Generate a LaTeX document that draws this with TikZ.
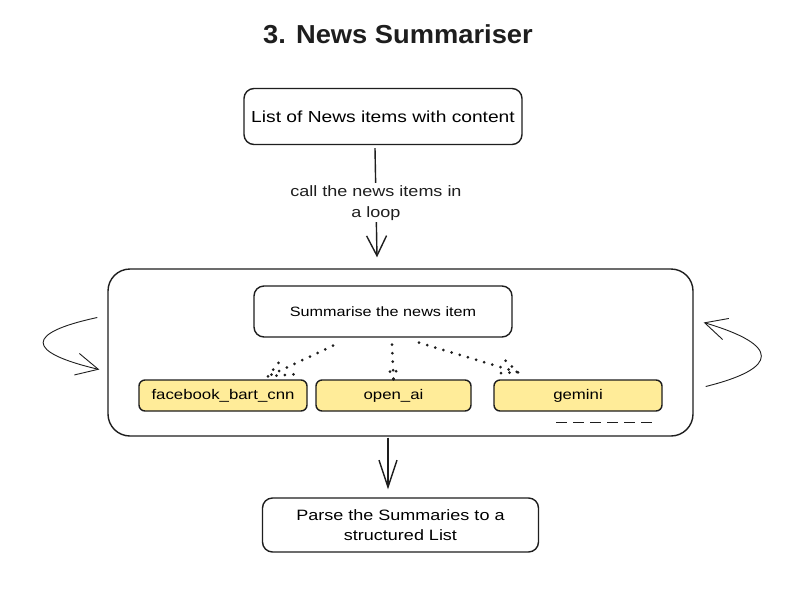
\documentclass[tikz,border=0pt]{standalone}
\usepackage{fontspec}
\setmainfont{Liberation Sans}[FakeStretch=1.2]
\newfontfamily\titlefont{Liberation Sans}[FakeStretch=1.05]
\usetikzlibrary{arrows.meta,calc}
\definecolor{ink}{HTML}{1E1E1E}
\definecolor{yel}{HTML}{FFEC99}
\begin{document}
\begin{tikzpicture}[x=1pt,y=-1pt,
  box/.style={draw=ink,line width=1.4pt,rounded corners=10pt,fill=white,align=center,inner sep=0pt},
  ybox/.style={box,fill=yel,rounded corners=6pt,minimum width=168pt,minimum height=31pt,font=\fontsize{14}{16}\selectfont},
  arr/.style={draw=ink,line width=1.4pt,-{Straight Barb[length=20pt,width=20pt,line width=1.4pt]}},
  thin arr/.style={draw=ink,line width=0.9pt,-{Straight Barb[length=22pt,width=22pt,line width=0.9pt]}},
  dots/.style={draw=ink,line width=3pt,line cap=round,dash pattern=on 0pt off 8.5pt},
  txt/.style={text=ink}
]
\useasboundingbox (0,0) rectangle (800,598);
\fill[white] (0,0) rectangle (800,598);

\node[txt,font=\titlefont\bfseries\fontsize{26}{30}\selectfont] (title) at (398,34) {3. News Summariser};

\node[box,minimum width=278pt,minimum height=56pt,font=\fontsize{16}{19}\selectfont] (src) at (383,116.5) {List of News items with content};

\node[box,rounded corners=22pt,minimum width=585pt,minimum height=167pt,fill=none] (big) at (400.5,352.5) {};

\node[box,minimum width=258pt,minimum height=51pt,font=\fontsize{13.5}{16}\selectfont] (summ) at (383,311.5) {Summarise the news item};

\node[ybox] (fb) at (223,395.5) {facebook\_bart\_cnn};
\node[ybox,minimum width=155pt] (oa) at (393.5,395.5) {open\_ai};
\node[ybox] (gm) at (578,395.5) {gemini};

\node[box,minimum width=276pt,minimum height=54pt,font=\fontsize{15}{20}\selectfont] (out) at (400.5,525) {Parse the Summaries to a\\structured List};

% top arrow with label
\draw[arr] ([xshift=-8pt,yshift=-3pt]src.south) -- ([xshift=-23.5pt,yshift=11pt]big.north)
  node[midway,fill=white,txt,align=center,inner sep=2pt,font=\fontsize{15}{21}\selectfont] (lbl) {call the news items in\\a loop};

% bottom arrow
\draw[arr,-{Straight Barb[length=27pt,width=18pt,line width=1.4pt]}] ([xshift=-12.5pt,yshift=-1pt]big.south) -- ([xshift=-12.5pt,yshift=8pt]out.north);

% dotted arrows
\draw[dots] ($(summ.south)+(-50,8)$) -- ($(fb.north)+(45,-3)$) coordinate (fbT);
\draw[dots] (fbT) -- ++(14,-18) (fbT) -- ++(26,-2);
\draw[dots] ($(summ.south)+(9,7)$) -- ($(oa.north)+(0,0)$) coordinate (oaT);
\draw[dots] (oaT) -- ++(-7,-15) (oaT) -- ++(5,-15);
\draw[dots] ($(summ.south)+(36,5)$) -- ($(gm.north)+(-60,-7)$) coordinate (gmT);
\draw[dots] (gmT) -- ++(-17,-16) (gmT) -- ++(-22,1);

% dashed line
\draw[draw=ink,line width=1.4pt,dash pattern=on 11pt off 6pt] ($(gm.south)+(-22,11)$) -- ($(gm.south)+(77,11)$);

% loop arrows
\coordinate (l1) at ($(big.west)+(-10,-35)$);
\coordinate (l2) at ($(big.west)+(-8,17)$);
\draw[thin arr] (l1) .. controls (25,333) and (25,352) .. (l2);
\coordinate (r1) at ($(big.east)+(12,34)$);
\coordinate (r2) at ($(big.east)+(10,-30)$);
\draw[thin arr] (r1) .. controls (780,368) and (780,345) .. (r2);
\end{tikzpicture}
\end{document}
